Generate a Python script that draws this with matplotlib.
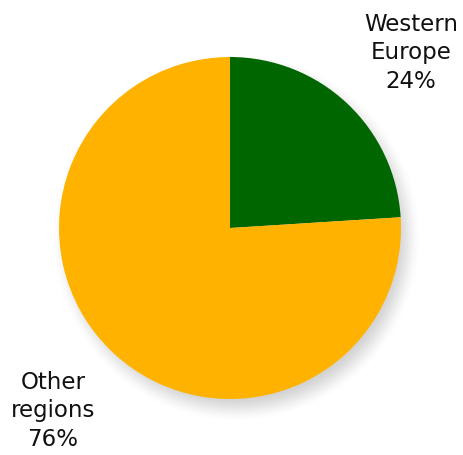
import numpy as np
import matplotlib
matplotlib.use("Agg")
import matplotlib.pyplot as plt

# Share of total by region
labels = ["Western\nEurope", "Other\nregions"]
shares = [24, 76]
colors = ["#006600", "#FFB300"]

W, H = 464, 455
fig = plt.figure(figsize=(W / 100, H / 100), dpi=100)
ax = fig.add_axes([0, 0, 1, 1])

cx, cy, r = 230, H - 228, 171

# soft drop shadow behind the pie
yy, xx = np.mgrid[0:H, 0:W]
sx, sy = cx + 6, cy - 10
d = np.hypot(xx - sx, yy - sy)
t = np.clip((r + 14 - d) / 28.0, 0, 1)
alpha = 0.3 * t * t * (3 - 2 * t)
shadow = np.zeros((H, W, 4))
shadow[..., :3] = 0.4
shadow[..., 3] = alpha
ax.imshow(shadow, extent=(0, W, 0, H), origin="lower", zorder=0, interpolation="bilinear")

ax.pie(shares, colors=colors, startangle=90, counterclock=False,
       center=(cx, cy), radius=r, frame=True,
       wedgeprops=dict(linewidth=0, antialiased=True))
ax.set_xlim(0, W)
ax.set_ylim(0, H)
ax.set_aspect("equal")
ax.axis("off")

for (lab, val, x, y) in [(labels[0], shares[0], 411, H - 53),
                         (labels[1], shares[1], 53, H - 411)]:
    ax.text(x, y, f"{lab}\n{val}%", ha="center", va="center",
            fontsize=16.5, linespacing=1.3, color="#111111",
            family="DejaVu Sans", zorder=5)

fig.savefig("out.png", dpi=100, facecolor="white")
